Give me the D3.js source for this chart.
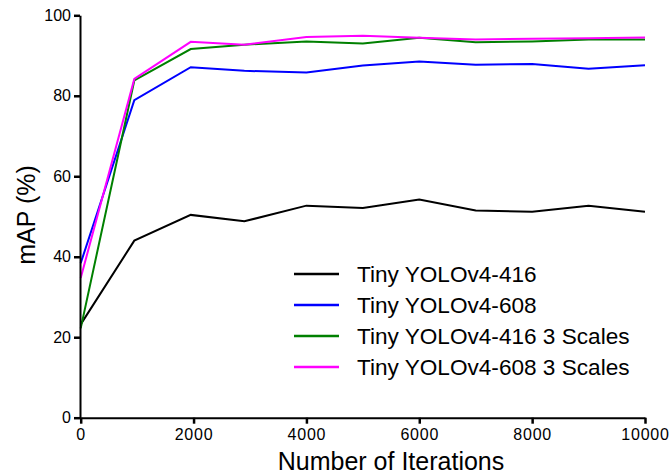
<!DOCTYPE html>
<html>
<head>
<meta charset="utf-8">
<script src="https://cdn.jsdelivr.net/npm/d3@7"></script>
<style>
  body { margin: 0; background: #fff; }
  svg { display: block; font-family: "Liberation Sans", Arial, sans-serif; }
</style>
</head>
<body>
<svg id="chart" width="670" height="474"></svg>
<script>
// Data
const iterations = [0, 950, 1950, 2900, 4000, 5000, 6000, 7000, 8000, 9000, 10000];
const tiny416 = [23.2, 44.0, 50.4, 48.8, 52.7, 52.1, 54.2, 51.5, 51.2, 52.7, 51.2];
const tiny608 = [38.4, 78.9, 87.1, 86.2, 85.8, 87.5, 88.5, 87.7, 87.9, 86.7, 87.6];
const tiny416s3 = [22.2, 83.8, 91.6, 92.7, 93.5, 93.0, 94.4, 93.3, 93.5, 94.0, 94.0];
const tiny608s3 = [34.7, 84.2, 93.4, 92.7, 94.6, 94.9, 94.4, 94.0, 94.2, 94.3, 94.5];
const seriesNames = ["Tiny YOLOv4-416", "Tiny YOLOv4-608", "Tiny YOLOv4-416 3 Scales", "Tiny YOLOv4-608 3 Scales"];
const seriesColours = ["#000000", "#0000ff", "#008000", "#ff00ff"];
const xTicks = [0, 2000, 4000, 6000, 8000, 10000];
const yTicks = [0, 20, 40, 60, 80, 100];

const series = [tiny416, tiny608, tiny416s3, tiny608s3].map((vals, i) => ({
  name: seriesNames[i],
  colour: seriesColours[i],
  points: vals.map((v, j) => ({ x: iterations[j], y: v }))
}));

const svg = d3.select("#chart");

// Scales
const x = d3.scaleLinear().domain([0, 10000]).range([80.7, 645]);
const y = d3.scaleLinear().domain([0, 100]).range([417.7, 15.3]);

// Lines (drawn under axes)
const line = d3.line().x(d => x(d.x)).y(d => y(d.y));
svg.append("g")
    .attr("fill", "none")
    .attr("stroke-width", 2)
    .attr("stroke-linejoin", "miter")
  .selectAll("path")
  .data(series)
  .join("path")
    .attr("stroke", d => d.colour)
    .attr("d", d => line(d.points));

// X axis
const xAxis = svg.append("g")
  .attr("transform", `translate(0, ${y(0)})`)
  .call(d3.axisBottom(x).tickValues(xTicks).tickFormat(d3.format("d"))
    .tickSize(6).tickSizeOuter(0).tickPadding(5));
xAxis.select(".domain").attr("stroke-width", 2);
xAxis.selectAll(".tick line").attr("stroke-width", 2.5);
xAxis.selectAll(".tick text")
  .attr("font-size", 16)
  .attr("letter-spacing", 0.8)
  .attr("fill", "#000");

// Y axis
const yAxis = svg.append("g")
  .attr("transform", `translate(${x(0) - 0.7}, 0)`)
  .call(d3.axisLeft(y).tickValues(yTicks)
    .tickSize(6).tickSizeOuter(0).tickPadding(3));
yAxis.select(".domain").attr("stroke-width", 2);
yAxis.selectAll(".tick line").attr("stroke-width", 2.5);
yAxis.selectAll(".tick text")
  .attr("font-size", 16)
  .attr("fill", "#000");

// Axis titles
svg.append("text")
  .attr("x", 391)
  .attr("y", 470)
  .attr("text-anchor", "middle")
  .attr("font-size", 25)
  .text("Number of Iterations");

svg.append("text")
  .attr("transform", "translate(35, 215) rotate(-90)")
  .attr("text-anchor", "middle")
  .attr("font-size", 25)
  .text("mAP (%)");

// Legend
const legend = svg.append("g")
  .selectAll("g")
  .data(series)
  .join("g")
    .attr("transform", (d, i) => `translate(294, ${274 + i * 31})`);
legend.append("line")
  .attr("x1", 0).attr("x2", 45)
  .attr("stroke", d => d.colour)
  .attr("stroke-width", 2.5);
legend.append("text")
  .attr("x", 63)
  .attr("dy", "0.36em")
  .attr("font-size", 22.6)
  .text(d => d.name);
</script>
</body>
</html>
